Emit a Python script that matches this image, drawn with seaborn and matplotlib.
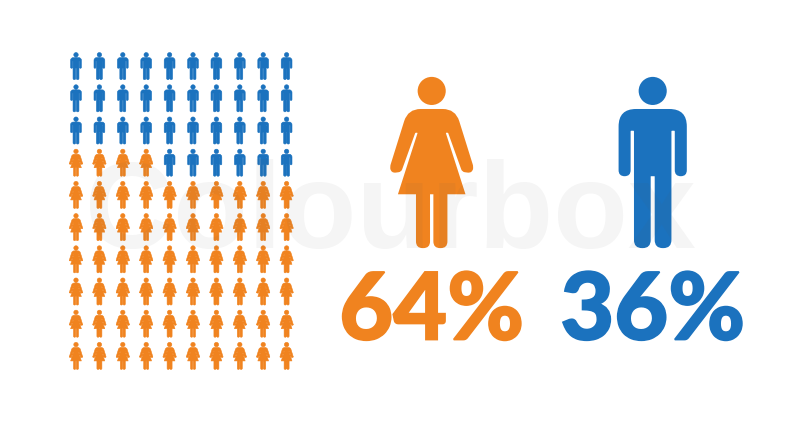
import matplotlib

matplotlib.use("Agg")
import matplotlib.patheffects as pe
import matplotlib.pyplot as plt
import numpy as np
import pandas as pd
import seaborn as sns
from matplotlib.path import Path

sns.set_theme(style="white")
plt.rcParams["font.family"] = ["Lato", "DejaVu Sans"]

groups = ["female", "male"]
shares = [64, 36]
share_labels = ["64%", "36%"]
# women per row of the pictogram, bottom row first
women_per_row = [10, 10, 10, 10, 10, 10, 4, 0, 0, 0]
n_cols = 10

COLORS = {"female": "#F0831F", "male": "#1B72BE"}
WATERMARK = "Colourbox"


def rounded(points):
    # closed outline from (x, y, corner radius), y pointing down
    verts, codes = [], []
    n = len(points)
    for i, (x, y, r) in enumerate(points):
        p = np.array([x, y], dtype=float)
        if r == 0:
            verts.append(p)
            codes.append(Path.LINETO)
            continue
        prev = np.array(points[i - 1][:2], dtype=float)
        nxt = np.array(points[(i + 1) % n][:2], dtype=float)
        a = p + (prev - p) / np.linalg.norm(prev - p) * r
        b = p + (nxt - p) / np.linalg.norm(nxt - p) * r
        verts += [a, p, b]
        codes += [Path.LINETO, Path.CURVE3, Path.CURVE3]
    codes[0] = Path.MOVETO
    verts.append(verts[0])
    codes.append(Path.CLOSEPOLY)
    return Path(np.array(verts), codes)


def icon(half_outline, cx, head_y, head_r):
    # mirror the left half around cx, add the head, centre and flip for a marker
    right = [(2 * cx - x, y, r) for x, y, r in reversed(half_outline)]
    body = rounded(half_outline + right)
    head = Path.circle((cx, head_y), head_r)
    head = Path(head.vertices.copy(), head.codes)
    full = Path.make_compound_path(body, head)
    v = full.vertices.copy()
    v[:, 0] -= cx
    v[:, 1] = (v[:, 1].min() + v[:, 1].max()) / 2 - v[:, 1]
    return Path(v / np.abs(v).max(), full.codes)


# outlines traced on the big icons, from top centre going left
woman = icon(
    [
        (155, 132, 0),
        (84, 132, 38),
        (30, 305, 8),
        (34, 324, 14),
        (64, 320, 8),
        (106, 203, 2),
        (113, 203, 2),
        (54, 387, 0),
        (108, 387, 0),
        (108, 548, 20),
        (150, 548, 20),
        (150, 387, 0),
        (155, 387, 0),
    ],
    155,
    78,
    42,
)
man = icon(
    [
        (818, 132, 0),
        (716, 132, 52),
        (716, 333, 18),
        (752, 333, 18),
        (752, 197, 2),
        (762, 197, 2),
        (762, 548, 24),
        (812, 548, 24),
        (812, 333, 1),
        (818, 333, 0),
    ],
    818,
    78,
    42,
)
MARKERS = {"female": woman, "male": man}

rows = []
for row, women in enumerate(women_per_row):
    for col in range(n_cols):
        rows.append((col, row, "female" if col < women else "male"))
cells = pd.DataFrame(rows, columns=["col", "row", "group"])

big = pd.DataFrame(
    {"group": groups, "share": shares, "label": share_labels, "slot": [0, 1]}
)

W, H = 800, 422
fig = plt.figure(figsize=(W / 100, H / 100), dpi=100, facecolor="white")

# pictogram grid
ax_grid = fig.add_axes([64.3 / W, 50 / H, 234 / W, 322 / H])
sns.scatterplot(
    data=cells,
    x="col",
    y="row",
    hue="group",
    style="group",
    palette=COLORS,
    markers=MARKERS,
    s=380,
    linewidth=0.4,
    edgecolor="face",
    legend=False,
    ax=ax_grid,
)
ax_grid.set_xlim(-0.5, 9.5)
ax_grid.set_ylim(-0.5, 9.5)
ax_grid.axis("off")

# right side: big icons and percentages, slot axis spans the two icons
ax_big = fig.add_axes([431.7 / W, 0, 221 / W, 1])
ax_big.patch.set_alpha(0)
sns.scatterplot(
    data=big.assign(y=162.5),
    x="slot",
    y="y",
    hue="group",
    style="group",
    palette=COLORS,
    markers=MARKERS,
    s=15200,
    linewidth=0,
    legend=False,
    ax=ax_big,
    clip_on=False,
)
ax_big.set_xlim(0, 1)
ax_big.set_ylim(H, 0)
ax_big.axis("off")

for _, r in big.iterrows():
    color = COLORS[r["group"]]
    ax_big.text(
        r["slot"],
        339.5,
        r["label"],
        color=color,
        fontsize=67,
        fontweight="black",
        ha="center",
        va="baseline",
        clip_on=False,
        # Lato comes out lighter than the reference, so thicken it
        path_effects=[
            pe.withStroke(linewidth=1.3, foreground=color, joinstyle="miter")
        ],
    )

fig.text(
    390 / W,
    1 - 248 / H,
    WATERMARK,
    color="#555555",
    alpha=0.06,
    fontsize=88,
    fontweight="bold",
    ha="center",
    va="baseline",
    family="Liberation Sans",
    zorder=10,
)

fig.savefig("out.png", dpi=100)
